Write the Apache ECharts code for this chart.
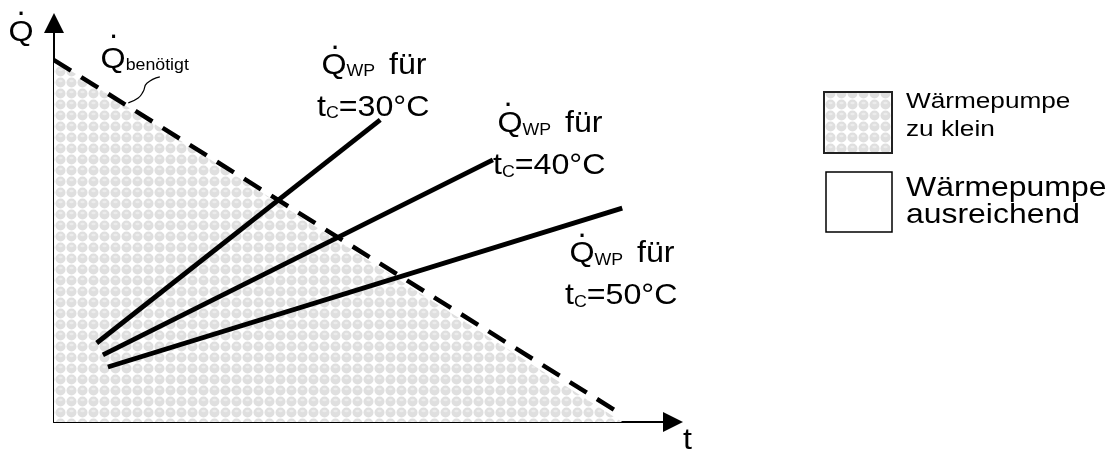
<!DOCTYPE html>
<html>
<head>
<meta charset="utf-8">
<script src="https://cdn.jsdelivr.net/npm/echarts@6/dist/echarts.min.js"></script>
<style>html,body{margin:0;padding:0;background:#fff}#c{width:1112px;height:450px}</style>
</head>
<body>
<div id="c"></div>
<script>
// ---- data (schematic units) ----
const xRange = [0, 100];
const yRange = [0, 100];
const demandLine = [[0, 90.7], [91.6, 2.0]];
const shadedRegion = [[0, 90.7], [91.8, 0]];
const wp30 = [[6.9, 19.8], [52.7, 75.7]];
const wp40 = [[7.9, 16.8], [70.9, 65.7]];
const wp50 = [[8.7, 13.8], [91.8, 53.6]];
const leader = [[17.1, 86.5], [15.0, 84.9], [14.4, 82.8], [13.6, 81.2], [12.0, 80.0]];
const wpTemps = ['30°C', '40°C', '50°C'];
const legendTexts = [['Wärmepumpe', 'zu klein'], ['Wärmepumpe', 'ausreichend']];

// ---- pattern tile ----
function makePattern() {
  const c = document.createElement('canvas');
  c.width = 11; c.height = 11;
  const g = c.getContext('2d');
  g.fillStyle = '#ffffff'; g.fillRect(0, 0, 11, 11);
  g.fillStyle = '#dfdfdf';
  g.beginPath(); g.arc(5.5, 5.5, 5.0, 0, Math.PI * 2); g.fill();
  g.fillStyle = '#ececec';
  g.beginPath(); g.ellipse(5.5, 4.0, 2.2, 1.3, 0, 0, Math.PI * 2); g.fill();
  return c;
}
const pat = makePattern();

const FONT = 'Liberation Sans, Arial, sans-serif';
const SX = 1.11;

const richLbl = {
  q: { fontSize: 29, fontFamily: FONT, lineHeight: 30, verticalAlign: 'bottom' },
  w: { fontSize: 16, fontFamily: FONT, lineHeight: 8, verticalAlign: 'bottom' },
  c: { fontSize: 16, fontFamily: FONT, lineHeight: 12, verticalAlign: 'bottom' },
  b: { fontSize: 16, fontFamily: FONT, lineHeight: 20, verticalAlign: 'bottom' }
};

function rtext(x, y, text, sx) {
  return { type: 'text', x: x, y: y, scaleX: sx, silent: true,
    style: { text: text, rich: richLbl, fill: '#000', align: 'left', verticalAlign: 'top', font: '29px ' + FONT } };
}
function ptext(x, y, text, size, sx) {
  return { type: 'text', x: x, y: y, scaleX: sx, silent: true,
    style: { text: text, fill: '#000', align: 'left', verticalAlign: 'top', fontSize: size, fontFamily: FONT, lineHeight: size } };
}
// dot-above accent centered at (cx, cy)
function dot(cx, cy) {
  return { type: 'text', x: cx, y: cy + 2, silent: true,
    style: { text: '\u00B7', fill: '#000', align: 'center', verticalAlign: 'middle', fontSize: 32, fontFamily: FONT } };
}

const labelAnchors = [[317, 50, 92], [493, 108.5, 150.5], [565, 238.5, 280.5]];
const dotPos = [[335, 45], [508, 102], [582, 233]];
const graphics = [];
graphics.push(rtext(8.6, 17, '{q|Q}', SX));
graphics.push(dot(21, 11));
graphics.push(rtext(683, 425, '{q|t}', SX));
graphics.push(rtext(100.6, 44, '{q|Q}{b|benötigt}', SX));
graphics.push(dot(113.5, 34));
labelAnchors.forEach((a, i) => {
  graphics.push(rtext(a[0] + 4.5, a[1], '{q|Q}{w|WP }{q| für}', SX));
  graphics.push(dot(dotPos[i][0], dotPos[i][1]));
  graphics.push(rtext(a[0], a[2], '{q|t}{c|C}{q|=' + wpTemps[i] + '}', SX));
});
// legend
graphics.push({ type: 'rect', silent: true, shape: { x: 824, y: 92, width: 68, height: 61 },
  style: { fill: { image: pat, repeat: 'repeat' }, stroke: '#222', lineWidth: 2 } });
graphics.push({ type: 'rect', silent: true, shape: { x: 826, y: 172, width: 66, height: 60 },
  style: { fill: '#fff', stroke: '#000', lineWidth: 1.5 } });
graphics.push(ptext(906, 91, legendTexts[0][0], 22, 1.19));
graphics.push(ptext(906, 118.5, legendTexts[0][1], 22, 1.19));
graphics.push(ptext(906, 174, legendTexts[1][0], 28, 1.14));
graphics.push(ptext(906, 201, legendTexts[1][1], 28, 1.14));

const chart = echarts.init(document.getElementById('c'), null, { renderer: 'canvas' });
const solid = (d) => ({ type: 'line', data: d, symbol: 'none', silent: true, animation: false,
  lineStyle: { color: '#000', width: 4.8, cap: 'butt' } });
chart.setOption({
  animation: false,
  grid: { left: 54, right: 439, top: 23, bottom: 28 },
  xAxis: { type: 'value', min: xRange[0], max: xRange[1],
    axisLine: { show: true, symbol: ['none', 'triangle'], symbolSize: [20, 20], lineStyle: { color: '#000', width: 2 } },
    axisTick: { show: false }, axisLabel: { show: false }, splitLine: { show: false } },
  yAxis: { type: 'value', min: yRange[0], max: yRange[1],
    axisLine: { show: true, symbol: ['none', 'triangle'], symbolSize: [20, 20], lineStyle: { color: '#000', width: 2 } },
    axisTick: { show: false }, axisLabel: { show: false }, splitLine: { show: false } },
  series: [
    { type: 'line', data: shadedRegion, symbol: 'none', silent: true, lineStyle: { width: 0 },
      areaStyle: { color: { image: pat, repeat: 'repeat' }, opacity: 1 }, z: 1 },
    { type: 'line', data: demandLine, symbol: 'none', silent: true,
      lineStyle: { color: '#000', width: 4.5, type: [20, 12], cap: 'butt' }, z: 3 },
    { type: 'line', data: leader, symbol: 'none', smooth: true, silent: true,
      lineStyle: { color: '#000', width: 1.2 }, z: 3 },
    solid(wp30), solid(wp40), solid(wp50)
  ],
  graphic: graphics
});
</script>
</body>
</html>
